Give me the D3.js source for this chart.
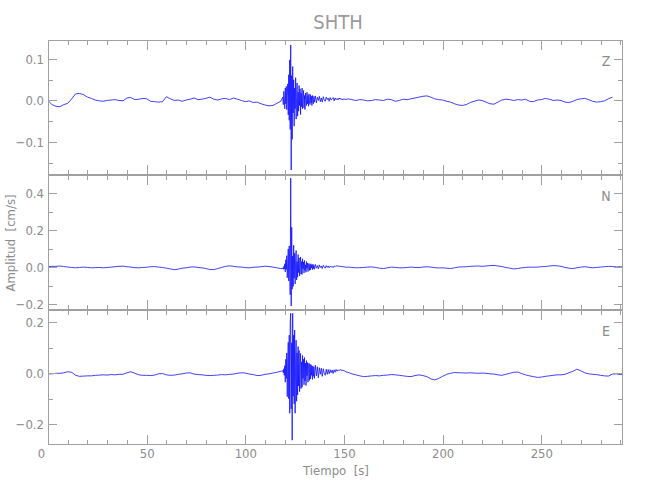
<!DOCTYPE html>
<html><head><meta charset="utf-8">
<script src="https://cdn.jsdelivr.net/npm/d3@7"></script>
<style>
body{margin:0;background:#fff;}
svg text{font-family:"DejaVu Sans Condensed","Liberation Sans Narrow",sans-serif;fill:#8c8c8c;}
</style></head><body>
<svg id="chart" width="650" height="500"></svg>
<script>
// ---------------- data ----------------
const titleText = "SHTH";
const xLabel = "Tiempo  [s]";
const yLabel = "Amplitud  [cm/s]";
const components = ["Z", "N", "E"];
const yDomains = [[-0.18, 0.146], [-0.233, 0.5], [-0.282, 0.249]];
const yMajorTicks = [[-0.1, 0, 0.1], [-0.2, 0, 0.2, 0.4], [-0.2, 0, 0.2]];
const yMinorTicks = [[-0.15, -0.05, 0.05], [-0.1, 0.1, 0.3], [-0.1, 0.1]];
const xDomain = [0, 291.4];
const xMajorTicks = [0, 50, 100, 150, 200, 250];
const xMinorTicks = [10,20,30,40,60,70,80,90,110,120,130,140,160,170,180,190,210,220,230,240,260,270,280,290];

// sample times (s): 2 s before the event, 0.25 s in the burst, 0.5 s in the coda, 2 s after
const timeGrid = [...d3.range(0, 119, 2), ...d3.range(119, 135, 0.25), ...d3.range(135, 151.5, 0.5), ...d3.range(152, 291, 2), 291];

const traceZ = [
 0.000,-0.010,-0.014,-0.015,-0.010,-0.007,0.004,0.016,0.017,0.014,
 0.008,0.005,0.001,-0.001,-0.002,0.000,0.001,0.002,0.000,-0.001,
 0.006,0.007,0.002,0.003,0.005,0.004,-0.002,-0.003,-0.004,-0.003,
 0.009,0.004,0.000,0.001,-0.002,0.001,0.003,0.006,0.002,0.003,
 0.005,0.008,0.003,0.001,0.004,0.005,0.002,0.006,0.003,0.000,
 -0.003,-0.001,-0.005,-0.004,-0.008,-0.011,-0.013,-0.012,-0.007,-0.002,
 0.008,-0.010,0.022,0.004,-0.020,0.030,-0.008,0.034,
 -0.022,0.012,0.040,-0.035,0.062,-0.048,0.098,-0.070,
 0.134,-0.168,0.060,-0.094,0.082,-0.030,0.050,-0.062,
 0.030,-0.020,0.055,-0.045,0.010,0.042,-0.038,0.020,
 -0.026,0.036,-0.012,0.028,-0.034,0.018,-0.015,0.030,
 -0.020,0.006,0.024,-0.018,0.012,-0.022,0.018,0.002,
 -0.012,0.020,-0.008,0.012,-0.014,0.016,0.000,-0.010,
 0.014,-0.006,0.010,-0.012,0.012,0.000,-0.008,0.010,
 -0.004,0.011,-0.006,0.008,0.000,0.010,-0.003,0.006,
 -0.004,0.009,0.001,-0.002,0.008,0.002,0.006,-0.002,
 0.007,0.001,0.004,0.007,-0.001,0.006,0.002,0.005,
 0.001,0.006,0.003,0.005,0.001,0.004,0.002,0.004,
 0.002,
 0.004,0.002,0.000,0.002,0.001,-0.001,0.000,0.002,0.001,0.000,
 0.003,0.002,-0.002,0.000,0.003,0.002,0.004,0.006,0.008,0.010,
 0.011,0.008,0.004,0.002,0.001,-0.002,-0.004,-0.008,-0.011,-0.012,
 -0.010,-0.005,-0.002,0.001,0.000,-0.004,-0.008,-0.009,-0.004,0.001,
 0.003,0.002,0.000,0.002,0.001,0.003,-0.002,-0.003,0.001,0.002,
 0.005,0.003,0.000,0.001,0.000,-0.004,-0.005,-0.002,0.002,0.004,
 0.005,0.002,-0.002,-0.004,-0.003,-0.001,0.004,0.008,null,null,
 null
];

const traceN = [
 0.002,0.004,0.004,0.006,0.003,0.000,-0.002,-0.004,-0.002,0.000,
 -0.002,-0.004,-0.003,-0.002,-0.004,-0.002,0.000,0.002,0.004,0.005,
 0.002,0.000,-0.003,-0.004,-0.002,-0.001,0.002,0.003,0.000,-0.002,
 -0.006,-0.010,-0.014,-0.011,-0.006,-0.004,0.000,0.001,-0.002,-0.004,
 -0.008,-0.013,-0.014,-0.008,-0.002,0.004,0.007,0.004,0.001,0.000,
 -0.003,-0.004,-0.001,0.000,0.002,0.005,0.003,0.000,-0.004,-0.008,
 -0.006,-0.012,0.004,-0.010,0.018,-0.026,0.040,-0.012,
 0.062,-0.058,0.020,0.098,-0.075,0.115,-0.040,-0.150,
 0.483,-0.211,0.216,-0.120,0.060,-0.105,0.118,-0.060,
 0.075,-0.092,0.040,0.090,-0.070,0.030,-0.055,0.068,
 -0.030,0.050,-0.048,0.012,0.055,-0.038,0.030,-0.040,
 0.045,-0.010,0.028,-0.032,0.036,-0.018,0.012,-0.028,
 0.030,-0.006,0.022,-0.024,0.010,0.020,-0.018,0.014,
 -0.016,0.018,-0.004,0.012,-0.014,0.016,-0.008,0.010,
 -0.012,0.014,-0.006,0.008,-0.010,0.012,-0.002,0.006,
 -0.008,0.010,0.000,-0.006,0.008,-0.002,0.006,-0.004,
 0.005,0.000,0.004,-0.003,0.006,0.002,0.008,0.004,
 0.007,0.003,0.006,0.002,0.004,0.001,0.002,0.000,
 -0.001,
 0.000,-0.002,-0.004,-0.003,-0.002,0.000,0.001,-0.002,-0.006,-0.008,
 -0.004,0.000,-0.002,-0.004,-0.004,-0.002,0.000,-0.002,-0.003,0.000,
 0.002,0.000,-0.003,-0.005,-0.004,-0.006,-0.008,-0.004,0.000,0.001,
 0.002,0.004,0.005,0.006,0.004,0.006,0.008,0.009,0.006,0.003,
 -0.002,-0.006,-0.010,-0.008,-0.004,-0.002,0.000,-0.001,0.000,0.002,
 0.003,0.006,0.008,0.007,0.004,-0.002,-0.006,-0.008,-0.004,0.000,
 0.002,-0.001,-0.004,-0.002,0.000,0.002,0.004,0.003,0.001,0.002,
 0.001
];

const traceE = [
 -0.002,-0.002,0.000,0.000,0.002,0.006,0.004,-0.008,-0.012,-0.011,
 -0.010,-0.010,-0.008,-0.007,-0.006,-0.007,-0.005,-0.006,-0.004,-0.004,
 0.002,0.006,0.000,-0.006,-0.008,-0.008,-0.009,-0.007,-0.002,-0.001,
 -0.006,-0.008,-0.007,-0.004,-0.002,0.001,0.002,-0.003,-0.005,-0.006,
 -0.008,-0.009,-0.008,-0.007,-0.005,-0.006,-0.004,-0.003,0.000,0.002,
 0.001,-0.003,-0.005,-0.009,-0.008,-0.004,-0.002,0.001,0.004,0.008,
 0.010,0.002,0.018,-0.008,0.030,-0.035,0.055,-0.020,
 0.080,-0.092,0.040,0.122,-0.100,0.150,-0.157,0.200,
 0.236,-0.140,0.120,-0.263,0.236,-0.090,0.150,-0.120,
 0.170,-0.157,0.060,0.130,-0.110,0.080,-0.085,0.105,
 -0.050,0.090,-0.072,0.030,0.078,-0.060,0.045,-0.055,
 0.070,-0.020,0.055,-0.045,0.062,-0.030,0.040,-0.048,
 0.050,-0.010,0.042,-0.035,0.020,0.040,-0.028,0.036,
 -0.022,0.034,-0.008,0.030,-0.024,0.028,-0.012,0.025,
 -0.020,0.032,-0.010,0.026,-0.018,0.022,-0.004,0.020,
 -0.012,0.018,0.000,-0.008,0.016,-0.004,0.015,-0.002,
 0.014,0.002,0.013,-0.001,0.014,0.004,0.015,0.008,
 0.014,0.010,0.015,0.012,0.013,0.010,0.011,0.008,
 0.006,
 0.004,-0.002,-0.006,-0.010,-0.013,-0.012,-0.010,-0.009,-0.010,-0.008,
 -0.007,-0.005,-0.006,-0.008,-0.010,-0.012,-0.013,-0.009,-0.006,-0.009,
 -0.013,-0.022,-0.026,-0.020,-0.012,-0.004,0.000,0.003,0.002,0.002,
 0.001,0.002,0.001,0.000,0.001,0.000,-0.002,-0.003,-0.006,-0.008,
 -0.004,0.000,0.004,0.005,-0.001,-0.006,-0.010,-0.013,-0.016,-0.015,
 -0.012,-0.010,-0.008,-0.006,-0.006,-0.004,0.002,0.008,0.016,0.010,
 0.002,-0.002,-0.004,-0.005,-0.008,-0.010,-0.011,-0.003,-0.002,-0.005,
 -0.004
];
const traces = [traceZ, traceN, traceE];

// ---------------- drawing ----------------
const svg = d3.select("#chart");
const left = 48, right = 623, top0 = 40, panelH = 135;
const axisColor = "#a0a0a0";
const textColor = "#8c8c8c";
const x = d3.scaleLinear().domain(xDomain).range([left, right]);

svg.append("text").attr("x", 338).attr("y", 29).attr("text-anchor", "middle")
  .attr("fill", "#9a9a9a").style("fill", "#9a9a9a").style("font-size", "20px").text(titleText);

components.forEach((comp, i) => {
  const pTop = top0 + i * panelH, pBot = pTop + panelH;
  const y = d3.scaleLinear().domain(yDomains[i]).range([pBot, pTop]);
  const g = svg.append("g");

  const clipId = "clip" + i;
  svg.append("clipPath").attr("id", clipId).append("rect")
    .attr("x", left).attr("y", pTop).attr("width", right - left).attr("height", panelH);

  const pts = timeGrid.map((t, k) => [t, traces[i][k]]);
  const line = d3.line().defined(d => d[1] !== null && d[1] !== undefined)
    .x(d => x(d[0])).y(d => y(d[1]));
  g.append("path").datum(pts).attr("clip-path", `url(#${clipId})`)
    .attr("fill", "none").attr("stroke", "#1010ff").attr("stroke-width", 0.8)
    .attr("d", line);

  const styleAxis = sel => {
    sel.select(".domain").remove();
    sel.selectAll("line").attr("stroke", axisColor).attr("shape-rendering", "crispEdges");
    sel.selectAll("text").attr("fill", textColor).style("font-size", "13px")
      .style("font-family", '"DejaVu Sans Condensed","Liberation Sans Narrow",sans-serif');
  };
  const fmt = d3.format(".1f");
  // left axis
  g.append("g").attr("transform", `translate(${left},0)`)
    .call(d3.axisLeft(y).tickValues(yMajorTicks[i]).tickSize(-9).tickPadding(4).tickFormat(fmt)).call(styleAxis);
  g.append("g").attr("transform", `translate(${left},0)`)
    .call(d3.axisLeft(y).tickValues(yMinorTicks[i]).tickSize(-5).tickFormat("")).call(styleAxis);
  // right axis
  g.append("g").attr("transform", `translate(${right},0)`)
    .call(d3.axisRight(y).tickValues(yMajorTicks[i]).tickSize(-9).tickFormat("")).call(styleAxis);
  g.append("g").attr("transform", `translate(${right},0)`)
    .call(d3.axisRight(y).tickValues(yMinorTicks[i]).tickSize(-5).tickFormat("")).call(styleAxis);
  // top axis
  g.append("g").attr("transform", `translate(0,${pTop})`)
    .call(d3.axisTop(x).tickValues(xMajorTicks).tickSize(-10).tickFormat("")).call(styleAxis);
  g.append("g").attr("transform", `translate(0,${pTop})`)
    .call(d3.axisTop(x).tickValues(xMinorTicks).tickSize(-5).tickFormat("")).call(styleAxis);
  // bottom axis
  const bot = g.append("g").attr("transform", `translate(0,${pBot})`)
    .call(d3.axisBottom(x).tickValues(xMajorTicks).tickSize(-10).tickPadding(4)
      .tickFormat(i === components.length - 1 ? d3.format("d") : "")).call(styleAxis);
  bot.selectAll("text").filter(d => d === 0).attr("dx", "-7");
  g.append("g").attr("transform", `translate(0,${pBot})`)
    .call(d3.axisBottom(x).tickValues(xMinorTicks).tickSize(-5).tickFormat("")).call(styleAxis);

  // frame
  g.append("rect").attr("x", left + 0.5).attr("y", pTop + 0.5)
    .attr("width", right - left - 1).attr("height", panelH - 1)
    .attr("fill", "none").attr("stroke", axisColor).attr("shape-rendering", "crispEdges");

  // component label
  g.append("text").attr("x", 606).attr("y", pTop + 26).attr("text-anchor", "middle")
    .style("font-size", "14px").text(comp);
});

svg.append("text").attr("x", 336).attr("y", 475).attr("text-anchor", "middle")
  .style("font-size", "13px").style("white-space", "pre").text(xLabel);
svg.append("text").attr("transform", "translate(15,243) rotate(-90)").attr("text-anchor", "middle")
  .style("font-size", "13px").style("white-space", "pre").text(yLabel);
</script>
</body></html>
